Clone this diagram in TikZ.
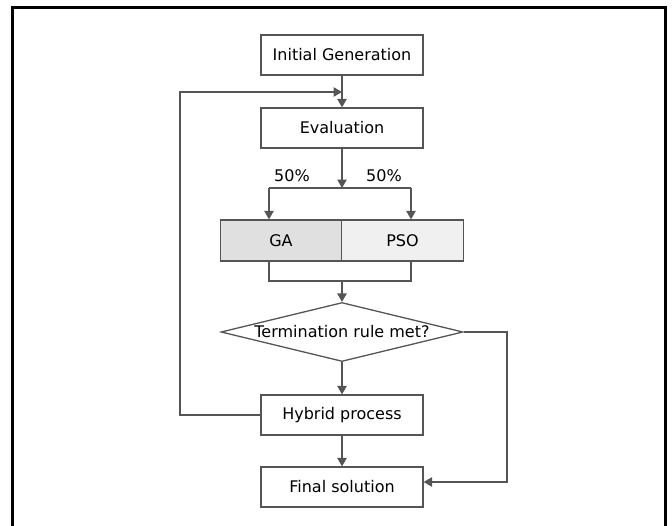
\documentclass[tikz,border=0pt]{standalone}
\usepackage{fontspec}
\setmainfont{DejaVu Sans}
\usepackage{tikz}
\definecolor{gray700}{HTML}{555555}
\definecolor{gray300}{HTML}{E0E0E0}
\definecolor{gray100}{HTML}{F0F0F0}
\usetikzlibrary{arrows,shapes.geometric}
\tikzstyle{stepbox}=[rectangle, draw=gray700, fill=white, inner sep=0pt, minimum width=162pt, minimum height=40pt, font=\fontsize{16}{19}\selectfont]
\tikzstyle{algobox}=[stepbox, minimum width=121.5pt, minimum height=41pt]
\tikzstyle{testbox}=[diamond, aspect=4, draw=gray700, fill=white, inner sep=0pt, minimum width=242pt, minimum height=59pt, font=\fontsize{16}{19}\selectfont]
\tikzstyle{share}=[font=\fontsize{16}{19}\selectfont]

\begin{document}
\begin{tikzpicture}[x=1pt, y=-1pt, line width=1.3pt, draw=gray700, >=triangle 60]
				\useasboundingbox (0,0) rectangle (672,526);
				\draw[black, line width=3pt] (12,526) -- (12,7.5) -- (665,7.5) -- (665,526);
				\node[stepbox] (init) at (342,55) {Initial Generation};
				\node[stepbox] (eval) at (342,128) {Evaluation};
				\node[algobox, fill=gray300] (ga) at (281,240.5) {GA};
				\node[algobox, fill=gray100] (pso) at (402.5,240.5) {PSO};
				\node[testbox] (test) at (342,332) {Termination rule met?};
				\node[stepbox] (hybrid) at (342,415) {Hybrid process};
				\node[stepbox] (final) at (342,487) {Final solution};
				\node[share] (sharel) at (292,176) {50\%};
				\node[share] (sharer) at (384,176) {50\%};
				\coordinate (loop) at (180,92);
				\coordinate (merge) at (342,92);
				\coordinate (split) at (342,188);
				\coordinate (splitl) at (269,188);
				\coordinate (splitr) at (411,188);
				\coordinate (joinl) at (269,281);
				\coordinate (joinr) at (411,281);
				\coordinate (join) at (342,281);
				\coordinate (exit) at (507,482);
				\draw[->] (init) -- (eval);
				\draw[->] (hybrid.west) -| (loop) -- (merge);
				\draw[->] (eval) -- (split);
				\draw (splitl) -- (splitr);
				\draw[->] (splitl) -- (splitl |- ga.north);
				\draw[->] (splitr) -- (splitr |- pso.north);
				\draw (joinl |- ga.south) -- (joinl) -- (joinr) -- (joinr |- pso.south);
				\draw[->] (join) -- (test.north);
				\draw[->] (test.south) -- (hybrid.north);
				\draw[->] (hybrid) -- (final);
				\draw[->] (test.east) -| (exit) -- (exit -| final.east);
			\end{tikzpicture}
\end{document}
